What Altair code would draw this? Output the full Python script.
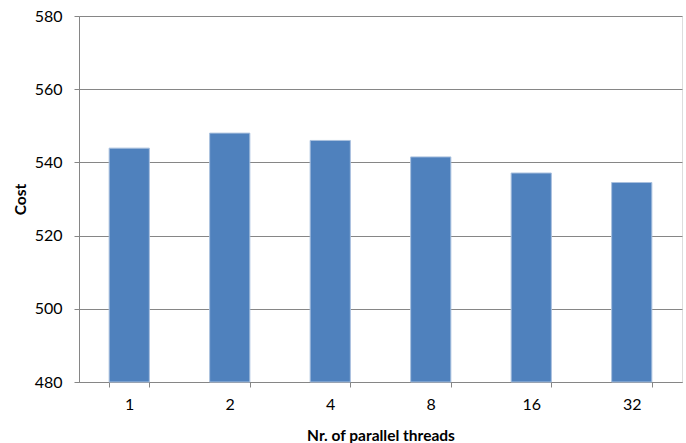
import altair as alt
import pandas as pd

threads = ["1", "2", "4", "8", "16", "32"]
cost = [543.9, 548.0, 546.0, 541.5, 537.1, 534.5]
y_ticks = [480, 500, 520, 540, 560, 580]

df = pd.DataFrame({"threads": threads, "cost": cost})

FONT = "Lato"
GRAY = "#868686"

bars = alt.Chart(df).mark_bar(
    color="#4F81BD", stroke="#A9C0DE", strokeWidth=1
).encode(
    x=alt.X(
        "threads:O",
        sort=threads,
        scale=alt.Scale(paddingInner=0.6, paddingOuter=0.3),
        axis=alt.Axis(
            title="Nr. of parallel threads",
            labelAngle=0,
            labelFont=FONT,
            labelFontSize=16,
            labelColor="#000000",
            labelPadding=9,
            tickBand="extent",
            tickSize=5,
            tickColor=GRAY,
            domainColor=GRAY,
            grid=False,
            titleFont=FONT,
            titleFontSize=15.5,
            titleFontWeight="bold",
            titleColor="#000000",
            titleX=301.5,
            titleY=53,
            titleBaseline="middle",
            titleAlign="center",
        ),
    ),
    y=alt.Y(
        "cost:Q",
        scale=alt.Scale(domain=[480, 580], zero=False, nice=False),
        axis=alt.Axis(
            title="Cost",
            values=y_ticks,
            labelFont=FONT,
            labelFontSize=16,
            labelColor="#000000",
            labelPadding=12,
            tickSize=5,
            tickColor=GRAY,
            domainColor=GRAY,
            gridColor=GRAY,
            gridWidth=1,
            titleFont=FONT,
            titleFontSize=15.5,
            titleFontWeight="bold",
            titleColor="#000000",
            titleAngle=-90,
            titleX=-59,
            titleY=183,
            titleBaseline="middle",
            titleAlign="center",
        ),
    ),
    y2=alt.datum(480),
)

chart = bars.properties(
    width=603,
    height=366,
    autosize=alt.AutoSizeParams(type="none"),
    padding={"left": 79, "top": 16, "right": 4, "bottom": 61},
).configure_view(stroke=None).configure(background="#FFFFFF")

chart.save("out.html", embed_options={"renderer": "svg", "actions": False})
